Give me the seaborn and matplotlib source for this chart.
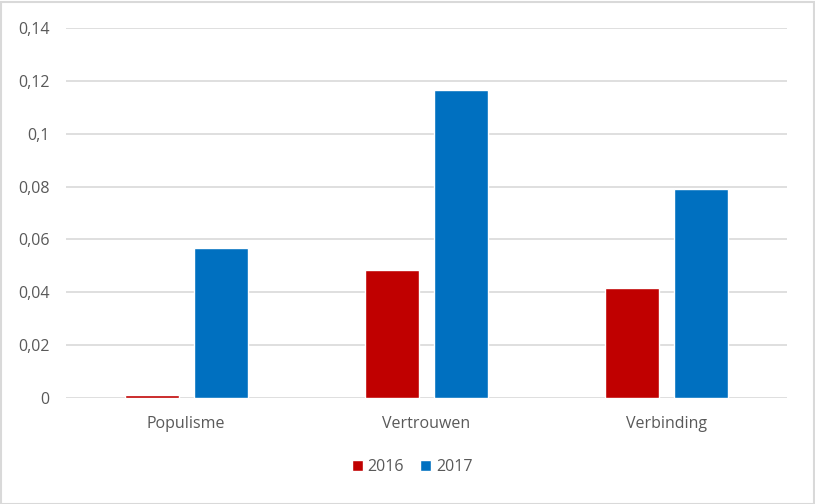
import matplotlib
matplotlib.use("Agg")
import matplotlib.pyplot as plt
import seaborn as sns
import pandas as pd
from matplotlib.patches import Rectangle
from matplotlib.ticker import FuncFormatter, MultipleLocator

categories = ["Populisme", "Vertrouwen", "Verbinding"]
years = ["2016", "2017"]
values_2016 = [0.0011, 0.0484, 0.0416]
values_2017 = [0.0568, 0.1165, 0.0791]

df = pd.DataFrame({
    "categorie": categories * 2,
    "jaar": [years[0]] * 3 + [years[1]] * 3,
    "waarde": values_2016 + values_2017,
})

sns.set_theme(style="white")
plt.rcParams["font.family"] = ["Open Sans", "DejaVu Sans"]
txt = "#595959"

fig = plt.figure(figsize=(8.15, 5.04), dpi=100)
ax = fig.add_axes([66/815, 1-398/504, (787-66)/815, (398-28)/504])

sns.barplot(data=df, x="categorie", y="waarde", hue="jaar",
            palette={"2016": "#C00000", "2017": "#0070C0"},
            width=0.575, gap=0.217, ax=ax, saturation=1, legend=True, zorder=3)

ax.set_xlim(-0.5, 2.5)
ax.set_ylim(0, 0.14)
ax.yaxis.set_major_locator(MultipleLocator(0.02))
ax.yaxis.set_major_formatter(FuncFormatter(lambda v, p: "0" if abs(v) < 1e-9 else f"{v:.2f}".rstrip("0").replace(".", ",")))
ax.grid(axis="y", color="#D9D9D9", linewidth=1.2, zorder=0)
ax.set_axisbelow(True)
for s in ax.spines.values():
    s.set_visible(False)
ax.set_xlabel("")
ax.set_ylabel("")
ax.tick_params(axis="y", length=0, pad=12, labelsize=11.5, labelcolor=txt)
ax.tick_params(axis="x", length=0, pad=13, labelsize=11.5, labelcolor=txt)

leg = ax.legend(loc="center", bbox_to_anchor=(412/815, 1-467/504), bbox_transform=fig.transFigure,
                ncol=2, frameon=False, fontsize=11.5, handlelength=0.7, handleheight=0.7,
                handletextpad=0.3, columnspacing=1.0)
for t in leg.get_texts():
    t.set_color(txt)

fig.patches.append(Rectangle((0.5/815, 0.5/504), 1-2/815, 1-2/504, transform=fig.transFigure,
                             fill=False, edgecolor="#D9D9D9", linewidth=1.5))

fig.savefig("out.png", dpi=100, facecolor="white")
